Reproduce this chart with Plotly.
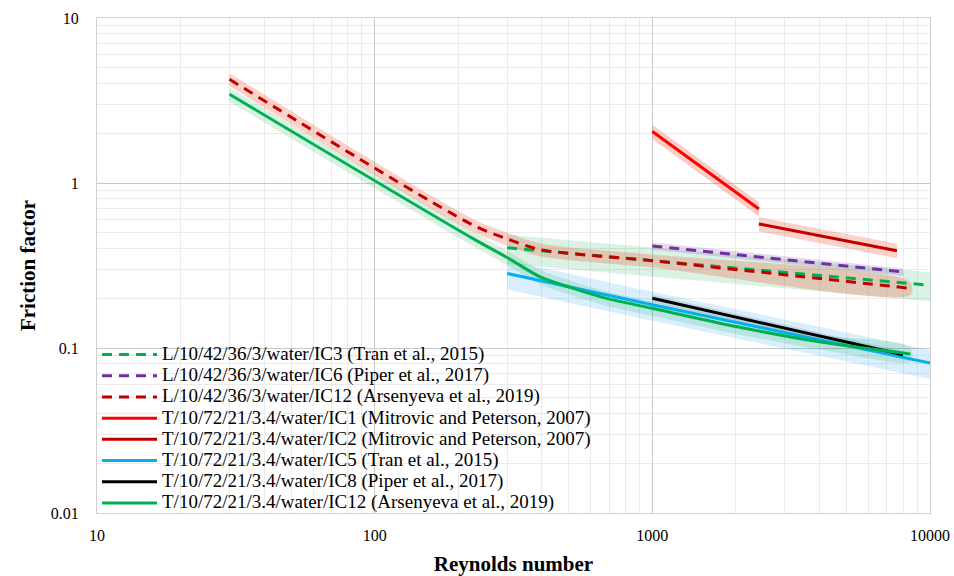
import plotly.graph_objects as go

# ---- data: Reynolds number vs friction factor ----
# laminar-type correlations (dashed)
re_l_ic3 = [300, 1000, 10000]
f_l_ic3 = [0.405, 0.339, 0.24]
re_l_ic6 = [1000, 8000]
f_l_ic6 = [0.415, 0.289]
re_l_ic12 = [30, 226, 303, 394, 1000, 8500]
f_l_ic12 = [4.25, 0.556, 0.456, 0.395, 0.338, 0.23]

# turbulent-type correlations (solid)
re_t_ic1 = [1000, 2420]
f_t_ic1 = [2.05, 0.695]
re_t_ic2 = [2420, 7600]
f_t_ic2 = [0.565, 0.389]
re_t_ic5 = [300, 1000, 10000]
f_t_ic5 = [0.283, 0.183, 0.081]
re_t_ic8 = [1000, 8000]
f_t_ic8 = [0.2, 0.091]
re_t_ic12 = [30, 226, 303, 394, 519, 684, 1000, 2000, 4000, 8500]
f_t_ic12 = [3.45, 0.46, 0.35, 0.27, 0.23, 0.2, 0.174, 0.135, 0.109, 0.092]

# relative uncertainty of each correlation
unc_l_ic3 = 0.20
unc_l_ic6 = 0.05
unc_l_ic12 = 0.09
unc_t_ic1 = 0.10
unc_t_ic2 = 0.10
unc_t_ic5 = 0.20
unc_t_ic8 = 0.05
unc_t_ic12 = 0.10

x_tick_vals = [10, 100, 1000, 10000]
x_tick_text = ["10", "100", "1000", "10000"]
y_tick_vals = [0.01, 0.1, 1, 10]
y_tick_text = ["0.01", "0.1", "1", "10"]

series = [
    ("L/10/42/36/3/water/IC3 (Tran et al., 2015)", re_l_ic3, f_l_ic3, unc_l_ic3,
     "#00B050", "10px,7px", "rgba(0,165,70,0.15)", "linear"),
    ("L/10/42/36/3/water/IC6 (Piper et al., 2017)", re_l_ic6, f_l_ic6, unc_l_ic6,
     "#7030A0", "10px,7px", "rgba(112,48,160,0.18)", "linear"),
    ("L/10/42/36/3/water/IC12 (Arsenyeva et al., 2019)", re_l_ic12, f_l_ic12, unc_l_ic12,
     "#C00000", "10px,7px", "rgba(240,90,60,0.28)", "spline"),
    ("T/10/72/21/3.4/water/IC1 (Mitrovic and Peterson, 2007)", re_t_ic1, f_t_ic1, unc_t_ic1,
     "#FF0000", "solid", "rgba(240,90,60,0.30)", "linear"),
    ("T/10/72/21/3.4/water/IC2 (Mitrovic and Peterson, 2007)", re_t_ic2, f_t_ic2, unc_t_ic2,
     "#C00000", "solid", "rgba(240,90,60,0.28)", "linear"),
    ("T/10/72/21/3.4/water/IC5 (Tran et al., 2015)", re_t_ic5, f_t_ic5, unc_t_ic5,
     "#00B0F0", "solid", "rgba(0,150,240,0.15)", "linear"),
    ("T/10/72/21/3.4/water/IC8 (Piper et al., 2017)", re_t_ic8, f_t_ic8, unc_t_ic8,
     "#000000", "solid", "rgba(0,0,0,0.10)", "linear"),
    ("T/10/72/21/3.4/water/IC12 (Arsenyeva et al., 2019)", re_t_ic12, f_t_ic12, unc_t_ic12,
     "#00B050", "solid", "rgba(0,165,70,0.15)", "spline"),
]

fig = go.Figure()

# uncertainty bands underneath all lines
for name, xs, ys, u, color, dash, band, shape in series:
    upper = [v * (1 + u) for v in ys]
    lower = [v * (1 - u) for v in ys]
    fig.add_trace(go.Scatter(
        x=list(xs) + list(xs)[::-1],
        y=upper + lower[::-1],
        mode="lines",
        line=dict(width=0, shape=shape, smoothing=0.8),
        fill="toself",
        fillcolor=band,
        hoverinfo="skip",
        showlegend=False,
    ))

for name, xs, ys, u, color, dash, band, shape in series:
    fig.add_trace(go.Scatter(
        x=xs, y=ys, mode="lines",
        name=f"<span style='font-size:19px'>{name}</span>",
        line=dict(color=color, width=3, dash=dash, shape=shape, smoothing=0.8),
    ))

serif = "Liberation Serif"

fig.update_layout(
    width=954, height=576,
    margin=dict(l=97, r=24, t=18, b=63, autoexpand=False),
    paper_bgcolor="white", plot_bgcolor="white",
    font=dict(family=serif, size=16, color="black"),
    legend=dict(
        x=0.0, y=-0.012, xanchor="left", yanchor="bottom",
        bgcolor="rgba(0,0,0,0)", font=dict(family=serif, size=14, color="black"),
        itemwidth=55, tracegroupgap=0,
    ),
    xaxis=dict(
        type="log", range=[1, 4], automargin=False,
        tickvals=x_tick_vals, ticktext=x_tick_text,
        showgrid=True, gridcolor="#c8c8c8", gridwidth=1,
        minor=dict(showgrid=True, gridcolor="#ebebeb", dtick="D1"),
        showline=True, linecolor="#d0d0d0", mirror=True,
        ticks="", ticklabelstandoff=8, zeroline=False,
        title=dict(text="<b>Reynolds number</b>", font=dict(family=serif, size=21), standoff=14),
    ),
    yaxis=dict(
        type="log", range=[-2, 1], automargin=False,
        tickvals=y_tick_vals, ticktext=y_tick_text,
        showgrid=True, gridcolor="#c8c8c8", gridwidth=1,
        minor=dict(showgrid=True, gridcolor="#ebebeb", dtick="D1"),
        showline=True, linecolor="#d0d0d0", mirror=True,
        ticks="", ticklabelstandoff=14, zeroline=False,
        title=dict(text="<b>Friction factor</b>", font=dict(family=serif, size=21), standoff=9),
    ),
)

fig.write_html("out.html")
